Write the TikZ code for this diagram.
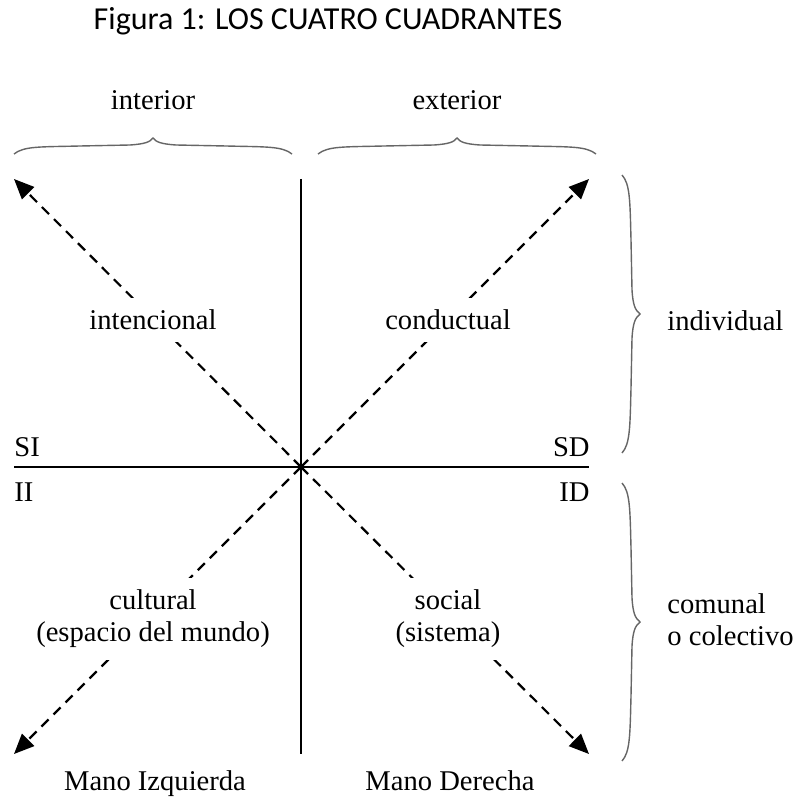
\documentclass[tikz,border=0pt]{standalone}
\usepackage{fontspec}
\setmainfont{Liberation Serif}
\newfontfamily\titlefont{Carlito}
\usetikzlibrary{arrows.meta}
\begin{document}
\begin{tikzpicture}[x=0.5pt,y=-0.5pt,
  axis/.style={line width=1.1pt,black},
  diag/.style={line width=1.1pt,black,dash pattern=on 5pt off 3.5pt,-{Triangle[length=10pt,width=8.5pt]}},
  brace/.style={line width=0.7pt,black!60},
  lbl/.style={font=\fontsize{14.3}{16}\selectfont,inner sep=1.5pt},
  gaplbl/.style={lbl,fill=white,align=center,inner xsep=3pt,inner ysep=6pt}]
\useasboundingbox (0,0) rectangle (799,801);
\node[font=\titlefont\fontsize{16}{19}\selectfont] (title) at (328,21) {Figura 1: LOS CUATRO CUADRANTES};
% axes
\coordinate (O) at (301,467);
\coordinate (TL) at (14,179);
\coordinate (TR) at (589,179);
\coordinate (BL) at (14,754);
\coordinate (BR) at (589,754);
\coordinate (VT) at (301,179);
\coordinate (VB) at (301,754);
\coordinate (HL) at (14,467);
\coordinate (HR) at (589,467);
\draw[axis] (VT) -- (VB);
\draw[axis] (HL) -- (HR);
\draw[diag] (O) -- (TL);
\draw[diag] (O) -- (TR);
\draw[diag] (O) -- (BL);
\draw[diag] (O) -- (BR);
% quadrant labels
\node[gaplbl] (int) at (153,320) {intencional};
\node[gaplbl] (con) at (448,320) {conductual};
\node[gaplbl] (cul) at (153,619) {cultural\\(espacio del mundo)};
\node[gaplbl] (soc) at (448,619) {social\\(sistema)};
\node[lbl,anchor=base west,inner sep=0pt] (SI) at (14,456) {SI};
\node[lbl,anchor=base east,inner sep=0pt] (SD) at (590,456) {SD};
\node[lbl,anchor=base west,inner sep=0pt] (II) at (14,501) {II};
\node[lbl,anchor=base east,inner sep=0pt] (ID) at (590,501) {ID};
% top labels and braces
\node[lbl,anchor=base] (inter) at (153,110) {interior};
\node[lbl,anchor=base] (exter) at (457,110) {exterior};
\draw[brace] (14,154) .. controls (24,146) and (40,147) .. (80,146)
  -- (130,145) .. controls (145,144) and (150,142) .. (153,138)
  .. controls (156,142) and (161,144) .. (176,145)
  -- (226,146) .. controls (266,147) and (282,146) .. (292,154);
\draw[brace] (318,154) .. controls (328,146) and (344,147) .. (384,146)
  -- (434,145) .. controls (449,144) and (454,142) .. (457,138)
  .. controls (460,142) and (465,144) .. (480,145)
  -- (530,146) .. controls (570,147) and (586,146) .. (596,154);
% right braces
\draw[brace] (622,175) .. controls (630,184) and (630,200) .. (631,240)
  -- (632,290) .. controls (633,305) and (635,310) .. (640,314)
  .. controls (635,318) and (633,323) .. (632,338)
  -- (631,388) .. controls (630,428) and (630,444) .. (622,453);
\draw[brace] (622,483) .. controls (630,492) and (630,508) .. (631,548)
  -- (632,598) .. controls (633,613) and (635,618) .. (640,622)
  .. controls (635,626) and (633,631) .. (632,646)
  -- (631,696) .. controls (630,736) and (630,752) .. (622,761);
\node[lbl,anchor=west] (indiv) at (664,321) {individual};
\node[lbl,anchor=west,align=left] (comu) at (664,620) {comunal\\o colectivo};
% bottom labels
\node[lbl,anchor=base] (mi) at (155,790) {Mano Izquierda};
\node[lbl,anchor=base] (md) at (450,790) {Mano Derecha};
\end{tikzpicture}
\end{document}
